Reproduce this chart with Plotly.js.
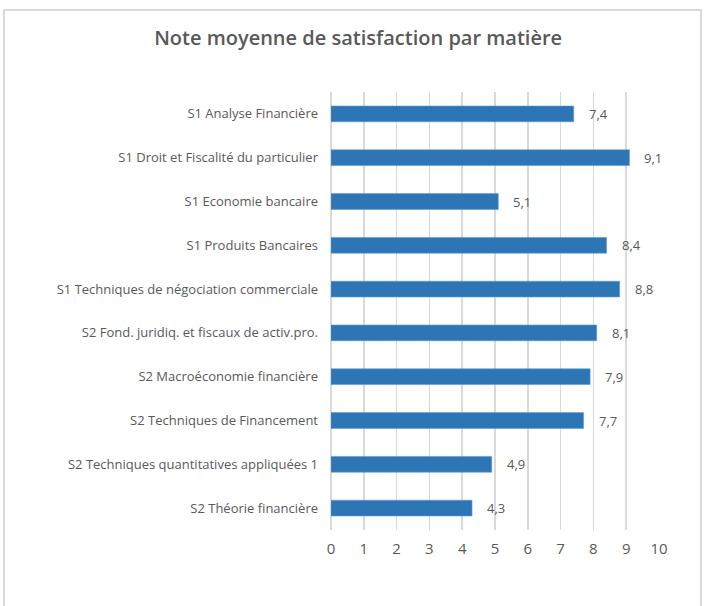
<!DOCTYPE html>
<html>
<head>
<meta charset="utf-8">
<script src="https://cdn.plot.ly/plotly-3.0.1.min.js"></script>
<style>
html,body{margin:0;padding:0;background:#fff;overflow:hidden;}
#frame{position:absolute;left:3px;top:9px;width:699px;height:620px;border:2px solid #d9d9d9;box-sizing:border-box;}
#chart{position:absolute;left:0;top:0;width:705px;height:606px;}
</style>
</head>
<body>
<div id="frame"></div>
<div id="chart"></div>
<script>
const categories = [
  "S1 Analyse Financière",
  "S1 Droit et Fiscalité du particulier",
  "S1 Economie bancaire",
  "S1 Produits Bancaires",
  "S1 Techniques de négociation commerciale",
  "S2 Fond. juridiq. et fiscaux de activ.pro.",
  "S2 Macroéconomie financière",
  "S2 Techniques de Financement",
  "S2 Techniques quantitatives appliquées 1",
  "S2 Théorie financière"
];
const values = [7.4, 9.1, 5.1, 8.4, 8.8, 8.1, 7.9, 7.7, 4.9, 4.3];
const xTicks = [0,1,2,3,4,5,6,7,8,9,10];
const chartTitle = "Note moyenne de satisfaction par matière";

const fmt = v => v.toFixed(1).replace(".", ",");
const FONT = "Open Sans, Noto Sans, sans-serif";
const GRAY = "#595959";

const trace = {
  type: "bar",
  orientation: "h",
  x: values,
  y: categories,
  marker: {color: "#2e75b6", line: {color: "#5b9bd5", width: 0.6}},
  width: 0.36,
  hoverinfo: "skip"
};

const annotations = values.map((v, i) => ({
  x: v, y: categories[i], xref: "x", yref: "y",
  text: fmt(v), showarrow: false, xanchor: "left", xshift: 13,
  font: {family: FONT, size: 13, color: GRAY}
}));

const layout = {
  width: 705, height: 606,
  paper_bgcolor: "rgba(0,0,0,0)",
  plot_bgcolor: "rgba(0,0,0,0)",
  margin: {l: 331, r: 46, t: 92, b: 76},
  showlegend: false,
  title: {
    text: chartTitle, x: 0.508, xref: "container", xanchor: "center",
    y: 1 - 38/606, yref: "container", yanchor: "middle",
    font: {family: FONT, size: 20, color: GRAY, weight: 600}
  },
  xaxis: {
    range: [0, 10], tickvals: xTicks, ticktext: xTicks.map(String),
    showgrid: true, gridcolor: "#d9d9d9", gridwidth: 1.5,
    zeroline: true, zerolinecolor: "#d9d9d9", zerolinewidth: 1.5,
    showline: false, ticks: "", ticklabelstandoff: 8,
    tickfont: {family: FONT, size: 15, color: GRAY}, fixedrange: true
  },
  yaxis: {
    autorange: "reversed", showgrid: false, zeroline: false, showline: false,
    ticks: "", ticklabelstandoff: 12,
    tickfont: {family: FONT, size: 13, color: GRAY}, fixedrange: true
  },
  annotations: annotations
};

Plotly.newPlot("chart", [trace], layout, {displayModeBar: false, staticPlot: true});
</script>
</body>
</html>
